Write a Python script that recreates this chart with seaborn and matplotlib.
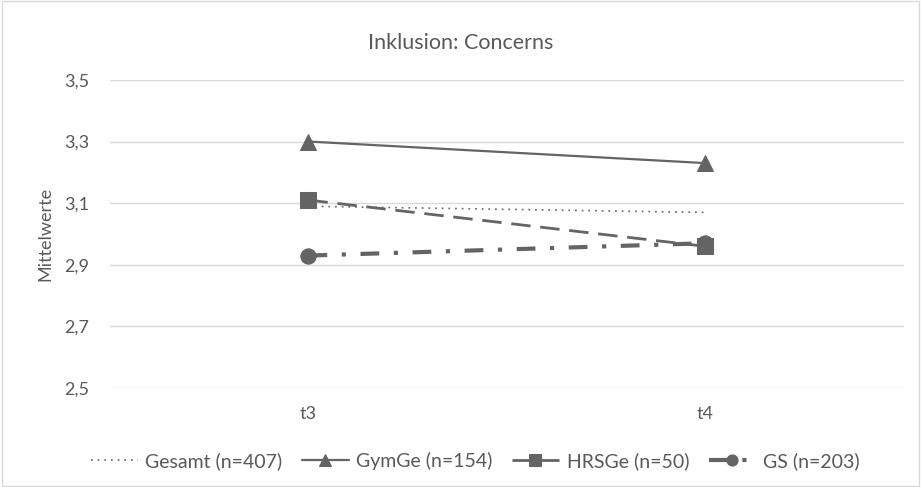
import matplotlib
matplotlib.use("Agg")
import matplotlib.pyplot as plt
import seaborn as sns
import pandas as pd
from matplotlib.patches import Rectangle

categories = ["t3", "t4"]
series_names = ["Gesamt (n=407)", "GymGe (n=154)", "HRSGe (n=50)", "GS (n=203)"]
gesamt = [3.09, 3.07]
gymge = [3.30, 3.23]
hrsge = [3.11, 2.96]
gs = [2.93, 2.97]
y_ticks = [2.5, 2.7, 2.9, 3.1, 3.3, 3.5]
y_tick_labels = ["2,5", "2,7", "2,9", "3,1", "3,3", "3,5"]

sns.set_theme(style="white")
plt.rcParams['font.family'] = ['Lato', 'DejaVu Sans']

fig = plt.figure(figsize=(9.21, 4.87), dpi=100)
ax = fig.add_axes([0.1194, 0.203, 0.862, 0.633])

gray = "#646464"
txt = "#595959"
styles = [
    dict(linestyle=(0, (1, 3)), linewidth=1.2, marker=None, markersize=0, lms=0),
    dict(linestyle="-", linewidth=1.6, marker="^", markersize=12, lms=9),
    dict(linestyle=(0, (7, 3.5)), linewidth=2.0, marker="s", markersize=11, lms=8),
    dict(linestyle=(0, (4.5, 3.5, 1, 3.5)), linewidth=3.0, marker="o", markersize=11, lms=8),
]
all_vals = [gesamt, gymge, hrsge, gs]
xpos = list(range(len(categories)))
for name, vals, st in zip(series_names, all_vals, styles):
    df = pd.DataFrame({"x": xpos, "y": vals})
    sns.lineplot(data=df, x="x", y="y", ax=ax, color=gray, label=name,
                 linestyle=st["linestyle"], linewidth=st["linewidth"],
                 marker=st["marker"], markersize=st["markersize"],
                 markeredgecolor=gray, markerfacecolor=gray)

ax.set_xlim(-0.5, 1.5)
ax.set_ylim(2.5, 3.5)
ax.set_xticks(xpos)
ax.set_xticklabels(categories)
ax.set_yticks(y_ticks)
ax.set_yticklabels(y_tick_labels)
ax.set_xlabel("")
ax.set_ylabel("Mittelwerte", fontsize=13, color=txt, labelpad=8)
ax.tick_params(axis="y", length=0, labelsize=13, colors=txt, pad=15)
ax.tick_params(axis="x", length=0, labelsize=13, colors=txt, pad=13)
ax.grid(axis="y", color="#d9d9d9", linewidth=1)
for s in ax.spines.values():
    s.set_visible(False)

fig.text(0.5, 0.912, "Inklusion: Concerns", ha="center", va="center",
         fontsize=15.5, color=txt)

leg = ax.legend(loc="center", bbox_to_anchor=(0.516, 0.053), bbox_transform=fig.transFigure,
                ncol=4, frameon=False, fontsize=14, handlelength=2.4,
                columnspacing=1.0, handletextpad=0.4)
for t in leg.get_texts():
    t.set_color(txt)
for h, st in zip(leg.legend_handles, styles):
    h.set_markersize(st["lms"])

fig.patches.append(Rectangle((0.002, 0.002), 0.996, 0.996, transform=fig.transFigure,
                             fill=False, edgecolor="#d9d9d9", linewidth=1))

fig.savefig("out.png", dpi=100, facecolor="white")
